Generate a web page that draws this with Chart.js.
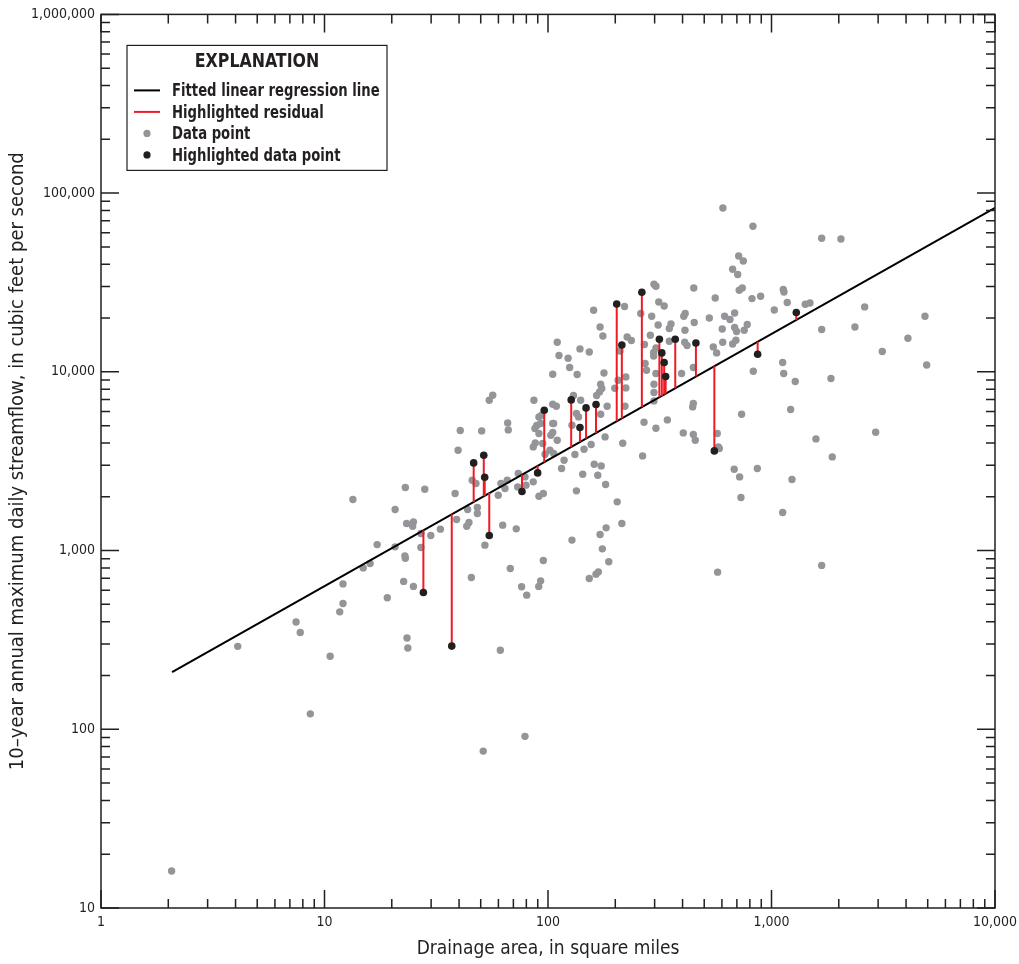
<!DOCTYPE html>
<html>
<head>
<meta charset="utf-8">
<script src="https://cdn.jsdelivr.net/npm/chart.js@4.4.1/dist/chart.umd.min.js"></script>
<style>
	html, body { margin: 0; padding: 0; background: #fff; }
	canvas { display: block; }
</style>
</head>
<body>
<canvas id="graph" width="1019" height="964"></canvas>
<script>
// gray data points: drainage area (sq mi) and 10-year max daily flow (cfs)
const areaValues = [
	2.07, 4.09, 7.46, 7.79, 8.64, 10.6, 11.7, 12.1, 12.1, 13.4, 14.9, 16.0, 17.2, 19.1, 20.7, 20.7,
	22.6, 22.9, 23.0, 23.3, 25.0, 24.8, 25.0, 23.4, 23.6, 27.0, 27.0, 29.9, 33.0, 39.0, 43.7, 48.3,
	48.3, 44.3, 43.3, 45.4, 52.2, 51.3, 61.2, 62.7, 67.8, 72.1, 76.2, 80.3, 78.9, 90.9, 92.7, 95.3,
	91.1, 95.3, 23.0, 28.1, 38.4, 39.6, 40.5, 45.8, 47.6, 50.5, 54.6, 56.6, 59.9, 61.6, 64.2, 65.7,
	66.0, 66.4, 73.2, 73.6, 78.9, 79.7, 85.9, 86.5, 87.7, 85.9, 87.4, 89.0, 91.1, 92.7, 91.1, 93.7,
	94.7, 97.0, 102, 106, 103, 105, 105, 105, 109, 105, 110, 112, 110, 115, 123, 125,
	135, 139, 153, 160, 171, 176, 178, 172, 174, 170, 165, 130, 140, 184, 199, 206,
	210, 220, 223, 223, 221, 226, 236, 260, 270, 272, 276, 287, 291, 298, 304, 297,
	297, 304, 304, 298, 298, 298, 311, 313, 331, 349, 355, 349, 396, 405, 411, 410,
	409, 419, 449, 451, 447, 447, 444, 527, 549, 568, 560, 106, 134, 137, 128, 172,
	156, 145, 132, 180, 216, 269, 304, 342, 403, 447, 456, 572, 578, 118, 161, 173,
	143, 167, 181, 134, 265, 204, 214, 182, 171, 128, 175, 187, 168, 164, 153, 574,
	606, 826, 1677, 2045, 713, 748, 670, 706, 717, 740, 818, 894, 1129, 1137, 1176, 1029,
	1416, 1486, 617, 652, 684, 602, 684, 698, 755, 779, 605, 670, 693, 2611, 4861, 1677,
	2362, 4078, 3131, 4946, 1122, 829, 1134, 1277, 1845, 1218, 735, 584, 1581, 2924, 1870, 681,
	864, 720, 1235, 730, 1122, 1677
]
const flowValues = [
	16.1, 291, 398, 348, 122, 256, 454, 506, 651, 1930, 800, 847, 1080, 544, 1698, 1049,
	672, 934, 905, 1418, 1447, 1369, 630, 324, 285, 1246, 1041, 1215, 1318, 1493, 1698, 1742,
	1613, 1436, 1369, 707, 1072, 75.5, 277, 1387, 794, 1323, 627, 563, 91.3, 630, 677, 880,
	2015, 2086, 2254, 2205, 2086, 3644, 4696, 2476, 2373, 4672, 6937, 7400, 2041, 2373, 2225, 2476,
	5180, 4732, 2271, 2700, 2584, 2322, 2423, 6937, 4003, 3802, 4819, 5009, 4519, 5138, 5595, 5718,
	3972, 3461, 3644, 3493, 4421, 4577, 5138, 6590, 6422, 9699, 14640, 12340, 4145, 2879, 11920, 10570,
	9660, 13440, 12920, 22110, 17830, 15880, 9860, 8525, 8066, 7722, 7372, 7372, 6937, 6422, 8098, 8980,
	13090, 23190, 9367, 8129, 6422, 15680, 14970, 21200, 14210, 11130, 10210, 16020, 20460, 30900, 30120, 12820,
	12270, 13610, 9786, 8525, 7662, 6875, 18300, 24600, 23370, 17470, 18540, 14840, 9786, 20460, 21200, 17090,
	14640, 14040, 29470, 18870, 10570, 6650, 6365, 20020, 13790, 12760, 25910, 5138, 5845, 5595, 5027, 5793,
	3922, 3692, 3447, 4325, 3988, 5227, 4837, 5383, 4554, 4460, 4145, 4519, 3802, 3203, 3043, 2977,
	2675, 2641, 2343, 2158, 3385, 1873, 1418, 1340, 1231, 1144, 1022, 865, 760, 738, 698, 757,
	82600, 65220, 55880, 55380, 44500, 41730, 37490, 35030, 28610, 29470, 25700, 26480, 28870, 27990, 24420, 22200,
	23880, 24290, 20460, 19620, 21360, 17380, 17700, 16810, 17090, 18390, 14640, 14320, 15030, 23080, 20460, 17240,
	17830, 15420, 12990, 10930, 11270, 10080, 9786, 8830, 9176, 6154, 5793, 3725, 4215, 4596, 3342, 2853,
	2879, 2584, 2499, 1982, 1634, 826
]

// highlighted points, with the fitted value on the regression line at the same area
const hlArea = [27.7, 37.1, 46.5, 51.6, 52.1, 54.6, 76.5, 89.9, 96.2, 127, 139, 148, 164, 203, 214, 263, 315, 323, 331, 336, 371, 459, 555, 867, 1291]
const hlFlow = [583, 292, 3094, 3417, 2574, 1215, 2140, 2720, 6100, 6965, 4882, 6283, 6565, 23970, 14140, 27870, 15220, 12760, 11270, 9415, 15220, 14510, 3612, 12540, 21470]
const hlFitted = [1297, 1594, 1872, 2012, 2027, 2096, 2658, 2979, 3124, 3795, 4060, 4231, 4550, 5288, 5484, 6354, 7205, 7335, 7474, 7550, 8094, 9408, 10750, 14740, 19500]

// fitted linear regression line end points
const lineArea = [2.08, 10000]
const lineFlow = [209, 82640]

const xTickValues = [1, 10, 100, 1000, 10000]
const yTickValues = [10, 100, 1000, 10000, 100000, 1000000]

const FONT = '"Liberation Sans Narrow", "DejaVu Sans Condensed", "Liberation Sans", sans-serif'
const INK = '#231f20'
const RED = '#ed1c24'
const GRAY = '#939598'

Chart.defaults.font.family = FONT
Chart.defaults.color = INK

const legendItems = [
	{ kind: 'line', color: '#000', text: 'Fitted linear regression line' },
	{ kind: 'line', color: RED, text: 'Highlighted residual' },
	{ kind: 'dot', color: GRAY, text: 'Data point' },
	{ kind: 'dot', color: INK, text: 'Highlighted data point' },
]

// text squeezed sideways, the report uses a condensed face
function narrowText(ctx, text, x, y, squeeze) {
	ctx.save()
	ctx.translate(x, y)
	ctx.scale(squeeze, 1)
	ctx.fillText(text, 0, 0)
	ctx.restore()
}

// log tick marks on all four sides, pointing inwards, plus the frame
const frameTicks = {
	id: 'frameTicks',
	afterDatasetsDraw(chart) {
		const { ctx, chartArea: a, scales } = chart
		ctx.save()
		ctx.strokeStyle = INK
		ctx.lineWidth = 1.5
		ctx.beginPath()
		const marks = (scale, fn) => {
			for (let e = Math.log10(scale.min); e <= Math.log10(scale.max); e++) {
				for (let m = 1; m < 10; m++) {
					const v = m * Math.pow(10, e)
					if (v > scale.max * 1.0001) break
					fn(scale.getPixelForValue(v), m === 1 ? 18 : 9)
				}
			}
		}
		marks(scales.x, (px, len) => {
			ctx.moveTo(px, a.bottom); ctx.lineTo(px, a.bottom - len)
			ctx.moveTo(px, a.top); ctx.lineTo(px, a.top + len)
		})
		marks(scales.y, (py, len) => {
			ctx.moveTo(a.left, py); ctx.lineTo(a.left + len, py)
			ctx.moveTo(a.right, py); ctx.lineTo(a.right - len, py)
		})
		ctx.stroke()
		ctx.strokeRect(a.left, a.top, a.right - a.left, a.bottom - a.top)

		// EXPLANATION box
		const bx = a.left + 26, by = a.top + 31, bw = 260, bh = 125
		ctx.fillStyle = '#fff'
		ctx.fillRect(bx, by, bw, bh)
		ctx.lineWidth = 1.2
		ctx.strokeRect(bx, by, bw, bh)
		ctx.fillStyle = INK
		ctx.textBaseline = 'middle'
		ctx.textAlign = 'center'
		ctx.font = 'bold 20px ' + FONT
		narrowText(ctx, 'EXPLANATION', bx + 130, by + 16, 0.88)
		ctx.textAlign = 'left'
		ctx.font = 'bold 18px ' + FONT
		legendItems.forEach((item, i) => {
			const cy = by + 45 + i * 21.5
			if (item.kind === 'line') {
				ctx.strokeStyle = item.color
				ctx.lineWidth = 2
				ctx.beginPath()
				ctx.moveTo(bx + 7, cy); ctx.lineTo(bx + 33, cy)
				ctx.stroke()
			} else {
				ctx.fillStyle = item.color
				ctx.beginPath()
				ctx.arc(bx + 20, cy, 3.6, 0, Math.PI * 2)
				ctx.fill()
			}
			ctx.fillStyle = INK
			narrowText(ctx, item.text, bx + 45, cy + 1, 0.815)
		})
		ctx.restore()
	}
}

function plotGraph() {
	const ctx = document.getElementById('graph').getContext('2d')

	const residuals = hlArea.map((a, i) => ({
		data: [{ x: a, y: hlFlow[i] }, { x: a, y: hlFitted[i] }],
		showLine: true,
		borderColor: RED,
		borderWidth: 2,
		pointRadius: 0,
		order: 1
	}))

	new Chart(ctx, {
		type: 'scatter',
		data: {
			datasets: [
				{
					label: 'Highlighted data point',
					data: hlArea.map((a, i) => ({ x: a, y: hlFlow[i] })),
					backgroundColor: INK,
					borderWidth: 0,
					pointRadius: 3.8,
					order: 0
				},
				...residuals,
				{
					label: 'Fitted linear regression line',
					data: lineArea.map((a, i) => ({ x: a, y: lineFlow[i] })),
					showLine: true,
					borderColor: '#000',
					borderWidth: 2,
					pointRadius: 0,
					order: 2
				},
				{
					label: 'Data point',
					data: areaValues.map((a, i) => ({ x: a, y: flowValues[i] })),
					backgroundColor: GRAY,
					borderWidth: 0,
					pointRadius: 3.7,
					order: 3
				}
			]
		},
		options: {
			responsive: false,
			animation: false,
			events: [],
			devicePixelRatio: 1,
			layout: {
				padding: { left: 0, top: 14, right: 24, bottom: 0 }
			},
			plugins: {
				legend: { display: false },
				tooltip: { enabled: false }
			},
			scales: {
				x: {
					type: 'logarithmic',
					min: 1,
					max: 10000,
					afterFit: (scale) => {
						scale.height = 56
						scale.paddingLeft = 0
						scale.paddingRight = 0
					},
					afterBuildTicks: (scale) => { scale.ticks = xTickValues.map(v => ({ value: v })) },
					grid: { display: false, drawTicks: false },
					border: { display: false },
					ticks: {
						autoSkip: false,
						maxRotation: 0,
						padding: 6,
						font: { size: 14 },
						color: INK,
						callback: (v) => v.toLocaleString('en-US')
					},
					title: {
						display: true,
						text: 'Drainage area, in square miles',
						font: { size: 19 },
						color: INK,
						padding: { top: 0, bottom: 4 }
					}
				},
				y: {
					type: 'logarithmic',
					min: 10,
					max: 1000000,
					afterFit: (scale) => { scale.width = 101 },
					afterBuildTicks: (scale) => { scale.ticks = yTickValues.map(v => ({ value: v })) },
					grid: { display: false, drawTicks: false },
					border: { display: false },
					ticks: {
						autoSkip: false,
						padding: 6,
						font: { size: 14 },
						color: INK,
						callback: (v) => v.toLocaleString('en-US')
					},
					title: {
						display: true,
						text: '10\u2013year annual maximum daily streamflow, in cubic feet per second',
						font: { size: 20 },
						color: INK,
						padding: { top: 6, bottom: 0 }
					}
				}
			}
		},
		plugins: [frameTicks]
	})
}

document.addEventListener('DOMContentLoaded', plotGraph)
</script>
</body>
</html>
